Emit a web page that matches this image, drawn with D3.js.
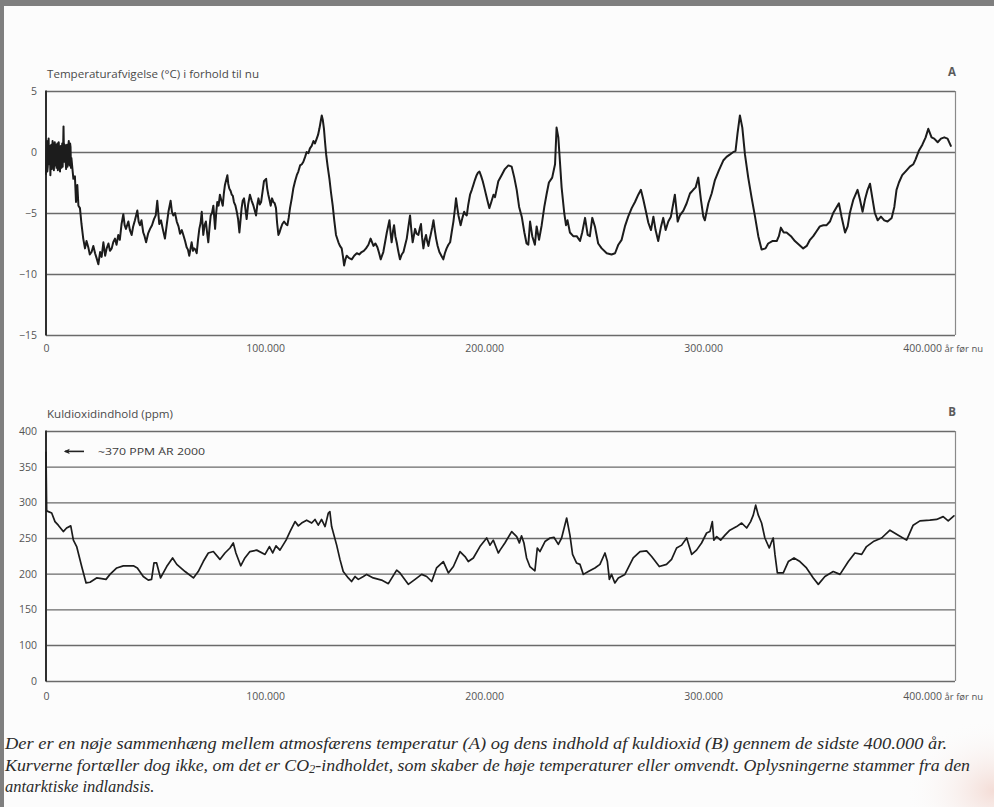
<!DOCTYPE html>
<html>
<head>
<meta charset="utf-8">
<script src="https://cdn.jsdelivr.net/npm/d3@7"></script>
<style>
  html, body { margin: 0; padding: 0; background: #fcfcfc; }
  svg { display: block; }
  .tick text { font-family: "Open Sans", "Noto Sans", sans-serif; font-size: 10.5px; fill: #555; }
</style>
</head>
<body>
<svg id="chart" width="994" height="807"></svg>
<script>
// Vostok ice core: temperature deviation (°C) against age (thousand years before present)
const temperature = [
  [0,-1.8],[0.2,-0.2],[0.4,0.9],[0.6,-1.6],[0.8,-1.2],[1.0,0.4],[1.2,1.1],[1.4,-1.0],[1.6,-0.6],[1.8,0.5],
  [2.0,-1.9],[2.2,-0.4],[2.4,0.6],[2.6,-1.4],[2.8,-1.0],[3.0,0.9],[3.2,0.4],[3.4,-0.8],[3.6,-1.5],[3.8,0.3],
  [4.0,0.8],[4.2,-1.1],[4.4,-0.3],[4.6,0.6],[4.8,-1.3],[5.0,-0.2],[5.2,0.7],[5.4,-1.5],[5.6,-0.9],[5.8,0.8],
  [6.0,0.2],[6.2,-0.9],[6.4,-1.6],[6.6,0.1],[6.8,0.5],[7.0,-1.3],[7.2,-0.4],[7.4,0.7],[7.6,-1.2],[7.8,0.2],
  [8.0,2.1],[8.2,-0.2],[8.4,-0.8],[8.6,0.6],[8.8,0.3],[9.0,-0.9],[9.2,-1.4],[9.4,0.2],[9.6,0.6],[9.8,-1.2],
  [10.0,-0.7],[10.2,0.5],[10.4,0.9],[10.6,-0.6],[10.8,-1.1],[11.0,0.7],[11.2,0.4],[11.4,-1.3],[11.6,-0.5],
  [12.5,-2.2],[13.2,-2.0],[13.7,-4.1],[14.3,-2.7],[14.8,-4.4],[15.5,-4.6],[16.2,-5.9],[17.0,-7.1],[17.8,-7.9],
  [18.5,-7.3],[19.3,-7.8],[20.0,-8.4],[20.8,-8.2],[21.6,-7.7],[22.4,-8.3],[23.1,-8.7],[23.9,-9.2],[24.7,-8.2],
  [25.4,-8.6],[26.2,-7.4],[27.0,-8.5],[27.7,-7.9],[28.5,-7.5],[29.2,-8.1],[30.0,-7.9],[30.7,-7.4],[31.5,-7.1],
  [32.2,-7.6],[33.0,-6.8],[33.7,-7.2],[34.5,-5.9],[35.3,-5.1],[35.9,-6.0],[36.5,-6.3],[37.6,-5.7],[38.3,-6.4],
  [39.1,-6.8],[39.8,-6.1],[40.6,-5.6],[41.7,-4.8],[42.3,-5.7],[42.9,-6.0],[43.6,-5.6],[44.4,-6.6],[45.0,-6.9],
  [45.7,-7.4],[46.6,-6.7],[47.5,-6.3],[48.4,-6.0],[49.3,-5.5],[50.1,-5.2],[50.8,-4.0],[51.7,-5.9],[52.5,-5.6],
  [53.3,-6.3],[54.3,-7.1],[55.1,-6.0],[55.9,-4.9],[56.9,-4.0],[57.5,-4.9],[58.1,-5.2],[58.9,-5.0],[59.7,-5.7],
  [60.5,-6.1],[61.2,-6.7],[62.0,-6.4],[62.7,-6.8],[63.5,-7.3],[64.2,-7.8],[64.8,-8.0],[65.4,-8.5],[66.5,-7.4],
  [67.1,-8.1],[67.6,-7.9],[68.2,-8.0],[68.8,-8.3],[69.4,-7.2],[70.0,-6.3],[70.6,-5.8],[71.1,-4.9],[71.8,-6.8],
  [72.4,-6.0],[73.0,-5.7],[73.6,-6.7],[74.1,-7.4],[74.7,-6.1],[75.2,-5.2],[75.8,-5.0],[76.4,-4.4],[77.2,-6.3],
  [77.7,-5.0],[78.2,-4.1],[78.8,-4.4],[79.4,-3.5],[80.1,-4.0],[80.7,-4.4],[81.2,-3.4],[81.7,-2.7],[82.8,-1.9],
  [83.2,-2.6],[83.7,-3.0],[84.3,-3.2],[84.8,-3.5],[85.3,-3.6],[85.8,-4.1],[86.5,-4.4],[87.1,-4.9],[87.7,-5.5],
  [88.3,-6.6],[88.8,-5.6],[89.3,-4.6],[89.8,-4.0],[90.4,-3.8],[91.0,-4.6],[91.6,-5.5],[92.3,-4.3],[93.1,-3.5],
  [93.9,-4.0],[94.7,-4.4],[95.3,-4.8],[95.9,-5.2],[96.5,-4.3],[97.0,-3.8],[97.6,-4.3],[98.2,-4.1],[98.9,-3.2],
  [99.5,-2.4],[100.5,-2.2],[101.0,-3.0],[101.5,-3.5],[102.0,-3.9],[102.6,-4.4],[103.2,-3.8],[103.8,-4.1],
  [104.4,-4.2],[105.0,-4.6],[105.5,-5.8],[106.1,-6.8],[106.6,-6.6],[107.1,-6.3],[107.9,-5.9],[108.7,-5.7],
  [109.5,-5.9],[110.2,-6.0],[110.8,-5.4],[111.4,-4.6],[112.2,-3.8],[112.9,-3.0],[113.7,-2.4],[114.5,-1.9],
  [115.2,-1.6],[116.0,-1.1],[116.8,-1.0],[117.5,-0.8],[118.3,-0.4],[119.0,0.0],[119.8,-0.1],[120.5,0.3],
  [121.3,0.5],[122.1,0.9],[122.8,0.7],[123.6,1.1],[124.2,1.4],[124.8,1.9],[125.4,2.5],[125.9,3.0],[126.4,2.6],
  [126.9,1.9],[127.4,0.8],[127.9,-0.2],[128.6,-1.2],[129.4,-2.2],[130.1,-3.3],[130.9,-4.4],[131.6,-5.6],
  [132.4,-6.8],[133.5,-7.4],[134.2,-7.7],[135.0,-7.9],[135.6,-8.6],[136.1,-9.3],[136.7,-8.8],[137.3,-8.5],
  [138.4,-8.7],[139.6,-8.8],[140.7,-8.5],[141.9,-8.3],[143.0,-8.4],[144.1,-8.2],[145.1,-8.1],[146.1,-7.9],
  [147.2,-7.6],[148.2,-7.1],[149.5,-7.7],[150.4,-7.5],[151.3,-7.8],[152.1,-8.3],[152.8,-8.8],[154.0,-8.2],
  [154.8,-7.4],[155.6,-6.6],[156.8,-5.6],[157.3,-6.6],[157.8,-7.4],[158.4,-6.5],[158.9,-6.0],[159.5,-6.9],
  [160.1,-7.4],[160.8,-8.1],[161.6,-8.8],[162.4,-8.4],[163.2,-8.2],[164.0,-7.6],[164.7,-7.1],[165.4,-6.2],
  [166.2,-5.2],[166.8,-6.4],[167.4,-7.4],[168.0,-6.8],[168.5,-6.3],[169.2,-6.7],[170.0,-6.8],[170.6,-6.3],
  [171.2,-5.9],[171.7,-7.0],[172.3,-7.9],[172.9,-7.2],[173.5,-6.8],[174.0,-7.3],[174.6,-7.7],[175.1,-7.2],
  [175.6,-6.8],[176.3,-6.2],[176.9,-5.6],[177.5,-6.4],[178.1,-7.1],[178.8,-7.7],[179.6,-8.2],[180.5,-8.5],
  [181.4,-8.8],[182.1,-8.3],[182.9,-7.9],[183.7,-7.6],[184.5,-7.4],[185.2,-6.6],[186.0,-5.7],[186.6,-4.8],
  [187.2,-3.8],[187.8,-4.6],[188.3,-5.2],[188.8,-5.6],[189.3,-6.0],[190.1,-5.4],[190.9,-4.9],[191.5,-5.1],
  [192.1,-5.2],[192.8,-4.3],[193.6,-3.5],[194.4,-3.1],[195.1,-2.7],[195.8,-2.3],[196.6,-1.9],[197.2,-1.7],
  [197.9,-1.6],[198.7,-2.0],[199.4,-2.4],[200.1,-2.9],[200.9,-3.5],[201.7,-4.1],[202.4,-4.6],[203.3,-4.1],
  [204.3,-3.5],[205.0,-3.7],[206.5,-2.4],[208.0,-1.9],[209.5,-1.4],[211.1,-1.1],[212.6,-1.2],[213.8,-2.1],
  [214.9,-3.1],[216.0,-4.5],[217.2,-5.3],[218.4,-6.6],[219.4,-7.5],[220.2,-7.6],[221.0,-5.7],[222.0,-6.9],
  [223.2,-7.6],[224.0,-6.1],[225.1,-7.2],[226.3,-6.0],[227.5,-4.5],[228.6,-3.4],[229.6,-2.5],[231.1,-2.1],
  [232.4,-1.0],[233.1,2.0],[233.9,1.2],[234.6,-0.7],[235.4,-2.9],[236.6,-5.0],[237.4,-6.0],[238.1,-5.6],
  [239.2,-6.6],[240.7,-6.9],[242.3,-6.9],[243.8,-7.3],[244.8,-6.6],[246.1,-5.4],[247.3,-6.8],[248.3,-6.9],
  [249.4,-5.4],[250.6,-6.1],[252.1,-7.5],[253.7,-7.9],[256.0,-8.3],[258.2,-8.4],[259.8,-8.3],[261.3,-7.6],
  [262.8,-7.2],[264.3,-6.1],[265.8,-5.3],[267.4,-4.6],[268.9,-4.1],[270.4,-3.5],[271.6,-3.1],[272.7,-3.9],
  [273.8,-4.8],[275.0,-5.8],[276.2,-6.4],[277.3,-5.3],[278.3,-6.4],[279.5,-7.3],[280.8,-6.1],[281.8,-5.4],
  [282.9,-6.4],[284.1,-5.7],[285.3,-5.3],[286.4,-4.2],[287.1,-3.5],[288.4,-5.7],[289.4,-5.2],[291.0,-4.8],
  [292.5,-4.2],[294.0,-3.4],[295.5,-3.1],[296.6,-2.9],[297.8,-2.1],[299.0,-3.9],[300.1,-5.3],[300.8,-5.6],
  [302.4,-4.2],[303.9,-3.4],[305.4,-2.3],[307.2,-1.5],[309.2,-0.7],[310.7,-0.4],[312.3,-0.2],[313.8,0.0],
  [314.8,0.1],[315.7,1.5],[316.8,3.0],[317.9,2.0],[319.1,-0.2],[320.6,-2.1],[322.1,-3.7],[323.7,-5.3],
  [325.2,-6.9],[326.7,-8.0],[328.5,-7.9],[329.7,-7.5],[331.6,-7.3],[333.6,-7.3],[334.6,-6.9],[335.5,-6.2],
  [336.8,-6.6],[338.1,-6.6],[340.1,-6.9],[341.9,-7.3],[343.8,-7.6],[345.7,-7.9],[347.3,-7.7],[348.8,-7.2],
  [350.3,-6.9],[351.8,-6.5],[353.3,-6.1],[354.9,-6.0],[356.4,-6.0],[357.9,-5.7],[359.4,-5.0],[361.0,-4.5],
  [362.0,-4.2],[363.2,-5.3],[364.8,-6.6],[366.0,-6.1],[367.0,-5.0],[368.6,-3.9],[370.5,-3.1],[371.6,-3.9],
  [372.8,-4.9],[373.9,-3.9],[375.1,-3.1],[376.2,-2.6],[377.2,-3.7],[378.4,-5.0],[379.7,-5.6],[381.2,-5.3],
  [382.7,-5.6],[384.2,-5.7],[386.1,-5.4],[387.3,-4.5],[388.3,-3.1],[389.4,-2.5],[390.9,-1.9],[392.9,-1.5],
  [394.4,-1.2],[396.0,-1.0],[397.0,-0.6],[398.5,0.1],[400.1,0.6],[401.6,1.2],[402.8,1.9],[404.3,1.2],
  [405.5,1.1],[407.1,0.8],[408.6,1.1],[410.1,1.2],[411.6,1.1],[413.1,0.5]
];

// Vostok ice core: CO2 concentration (ppm) against age (thousand years before present)
const co2 = [
  [0,370],[0.3,288],[1.1,287],[2.6,285],[4.1,273],[5.6,268],[7.9,259],[9.4,264],[11.3,267],[12.5,247],
  [14.0,238],[16.3,210],[18.3,187],[20.1,188],[23.1,194],[25.4,193],[27.4,192],[29.2,199],[32.3,208],
  [35.3,211],[39.9,211],[41.7,208],[44.4,196],[46.7,191],[48.2,192],[49.3,215],[50.5,215],[52.3,194],
  [55.1,210],[57.8,222],[59.7,213],[63.5,203],[67.3,194],[69.5,203],[71.8,217],[74.1,229],[76.4,231],
  [79.4,220],[81.7,229],[84.0,236],[85.5,243],[86.7,229],[88.9,211],[90.8,222],[93.1,231],[96.2,233],
  [100.0,227],[102.0,238],[103.5,229],[105.0,239],[106.8,233],[109.6,247],[111.4,259],[113.7,273],
  [115.2,267],[116.7,271],[119.0,275],[121.3,271],[122.8,276],[124.3,268],[125.8,276],[127.4,266],
  [128.9,285],[129.6,287],[130.4,266],[132.7,240],[134.2,220],[135.7,203],[138.0,194],[139.5,189],
  [141.1,196],[142.6,192],[144.9,196],[146.4,199],[149.4,194],[153.2,191],[156.3,186],[160.1,205],
  [161.6,201],[165.4,185],[168.5,192],[171.5,199],[173.8,196],[176.1,189],[178.3,208],[181.4,217],
  [183.7,201],[186.0,210],[189.0,231],[191.3,224],[192.8,217],[195.1,222],[198.1,238],[201.2,250],
  [202.7,240],[204.2,247],[206.5,229],[207.3,233],[209.5,243],[212.6,259],[214.9,252],[216.1,243],
  [217.1,253],[218.2,243],[219.4,222],[220.9,210],[223.2,204],[224.3,236],[225.5,231],[227.8,245],
  [230.1,250],[231.9,251],[233.9,241],[235.4,250],[237.7,278],[239.2,254],[240.4,227],[242.2,215],
  [243.8,213],[245.3,199],[247.6,203],[250.6,208],[252.9,213],[255.2,229],[256.3,217],[257.2,192],
  [258.2,199],[259.7,187],[261.3,194],[264.3,199],[265.8,208],[268.1,222],[271.2,231],[274.2,232],
  [276.5,224],[280.0,210],[283.3,213],[285.6,220],[287.9,236],[290.2,240],[292.5,250],[294.8,227],
  [297.0,233],[299.3,243],[301.6,257],[303.1,259],[304.2,273],[304.9,247],[306.2,252],[308.0,247],
  [310.0,254],[312.2,261],[315.3,266],[317.6,271],[319.9,264],[321.7,273],[322.9,282],[324.0,296],
  [325.2,282],[326.7,271],[328.2,250],[330.2,236],[331.3,245],[332.0,250],[332.8,227],[333.9,201],
  [336.6,201],[338.9,217],[341.5,222],[344.2,217],[347.2,208],[350.3,194],[352.6,185],[355.6,196],
  [359.4,203],[362.5,199],[366.3,217],[369.3,229],[372.4,227],[374.6,238],[377.7,245],[381.5,250],
  [385.3,261],[389.1,254],[392.9,247],[395.9,268],[399.0,274],[403.5,275],[406.6,276],[409.6,280],
  [411.9,274],[414.5,281]
];

const tempTicks = [5, 0, -5, -10, -15];
const co2Ticks = [0, 100, 150, 200, 250, 300, 350, 400];
const ageTicks = [0, 100, 200, 300, 400];
const ageTickLabels = ["0", "100.000", "200.000", "300.000", "400.000"];
const ageUnit = " år før nu";
const tempTitle = "Temperaturafvigelse (°C) i forhold til nu";
const co2Title = "Kuldioxidindhold (ppm)";
const co2Note = "~370 PPM ÅR 2000";
const caption = [
  "Der er en nøje sammenhæng mellem atmosfærens temperatur (A) og dens indhold af kuldioxid (B) gennem de sidste 400.000 år.",
  "Kurverne fortæller dog ikke, om det er CO₂-indholdet, som skaber de høje temperaturer eller omvendt. Oplysningerne stammer fra den",
  "antarktiske indlandsis."
];

const W = 994, H = 807;
const svg = d3.select("#chart");
const sans = "Open Sans, Noto Sans, sans-serif";

// page and the grey edges around it
const defs = svg.append("defs");
const tint = defs.append("radialGradient").attr("id", "cornerTint")
  .attr("cx", 1).attr("cy", 0.98).attr("r", 0.09);
tint.append("stop").attr("offset", 0).attr("stop-color", "#f3d9d2").attr("stop-opacity", 0.9);
tint.append("stop").attr("offset", 1).attr("stop-color", "#fcfcfc").attr("stop-opacity", 0);
svg.append("rect").attr("width", W).attr("height", H).attr("fill", "#fcfcfc");
svg.append("rect").attr("width", W).attr("height", H).attr("fill", "url(#cornerTint)");
svg.append("rect").attr("x", 0).attr("y", 0).attr("width", W).attr("height", 6).attr("fill", "#7f7f7f");
svg.append("rect").attr("x", 0).attr("y", 0).attr("width", 4).attr("height", H).attr("fill", "#7f7f7f");

const left = 46, right = 955;
const x = d3.scaleLinear().domain([0, 415]).range([left, right]);

function drawPanel(opts) {
  const { y, ticks, data, title, titleWidth, letter, titleY, labelPad, lineWidth } = opts;
  const yBottom = y(d3.min(ticks)), yTop = y(d3.max(ticks));
  const g = svg.append("g");

  // horizontal rules with value labels
  const yAxis = d3.axisLeft(y).tickValues(ticks).tickSize(-(right - left)).tickPadding(9);
  const ya = g.append("g").attr("transform", `translate(${left},0)`).call(yAxis);
  ya.select(".domain").remove();
  ya.selectAll(".tick line").attr("stroke", "#6a6a6a").attr("stroke-width", 1.4);
  ya.selectAll(".tick text").attr("dy", "0.32em");

  // right edge of the frame
  g.append("line").attr("x1", right + 0.5).attr("x2", right + 0.5)
    .attr("y1", yTop).attr("y2", yBottom).attr("stroke", "#8a8a8a").attr("stroke-width", 1.2);

  // age axis
  const xAxis = d3.axisBottom(x).tickValues(ageTicks).tickSize(0).tickPadding(labelPad)
    .tickFormat((d, i) => ageTickLabels[i]);
  const xa = g.append("g").attr("transform", `translate(0,${yBottom})`).call(xAxis);
  xa.select(".domain").remove();
  const last = xa.selectAll(".tick text").filter(d => d === 400);
  const w = last.node().getComputedTextLength();
  last.attr("text-anchor", "start").attr("x", -w / 2)
    .append("tspan").attr("font-size", 9.5).text(ageUnit);

  // left axis line
  g.append("line").attr("x1", left).attr("x2", left).attr("y1", yTop - 0.5).attr("y2", yBottom + 0.5)
    .attr("stroke", "#2e2e2e").attr("stroke-width", 2);

  // data curve
  g.append("path").datum(data)
    .attr("d", d3.line().x(d => x(d[0])).y(d => y(d[1])))
    .attr("fill", "none").attr("stroke", "#1c1c1c").attr("stroke-width", lineWidth)
    .attr("stroke-linejoin", "round").attr("stroke-linecap", "round");

  // panel title and letter
  g.append("text").attr("x", left + 1).attr("y", titleY)
    .attr("font-family", sans).attr("font-size", 10)
    .attr("textLength", titleWidth).attr("lengthAdjust", "spacingAndGlyphs")
    .attr("fill", "#4a4a4a").text(title);
  g.append("text").attr("x", 952).attr("y", titleY - 2).attr("text-anchor", "middle")
    .attr("font-family", sans).attr("font-size", 11.5)
    .attr("font-weight", "bold").attr("fill", "#5a5a5a").text(letter);
  return g;
}

// A: temperature
const yTemp = d3.scaleLinear().domain([-15, 5]).range([335, 91]);
drawPanel({ y: yTemp, ticks: tempTicks, data: temperature, title: tempTitle, titleWidth: 212,
  letter: "A", titleY: 78, labelPad: 10, lineWidth: 2.0 });

// B: CO2 (axis compressed below 100 ppm)
const yCO2 = d3.scaleLinear().domain([0, 100, 400]).range([681, 645, 431]);
const gB = drawPanel({ y: yCO2, ticks: co2Ticks, data: co2, title: co2Title, titleWidth: 126,
  letter: "B", titleY: 418, labelPad: 12, lineWidth: 1.7 });

// note about the present-day level
const noteY = yCO2(370) - 1;
defs.append("marker").attr("id", "arrowHead").attr("viewBox", "0 0 10 10")
  .attr("refX", 8).attr("refY", 5).attr("markerWidth", 6).attr("markerHeight", 6)
  .attr("markerUnits", "userSpaceOnUse").attr("orient", "auto")
  .append("path").attr("d", "M10,5 L0,0.5 L2.5,5 L0,9.5 Z").attr("fill", "#222");
gB.append("line").attr("x1", 84).attr("x2", 65).attr("y1", noteY).attr("y2", noteY)
  .attr("stroke", "#222").attr("stroke-width", 1.6).attr("marker-end", "url(#arrowHead)");
gB.append("text").attr("x", 98).attr("y", noteY + 3.5)
  .attr("font-family", sans).attr("font-size", 9.5)
  .attr("textLength", 107).attr("lengthAdjust", "spacingAndGlyphs")
  .attr("fill", "#3a3a3a").text(co2Note);

// caption below the charts
const cap = svg.append("g").attr("font-family", "Liberation Serif, serif")
  .attr("font-style", "italic").attr("fill", "#2b2b2b").attr("font-size", 16.5);
const capY = [749, 771, 792];
const capWidth = [942, 965, null];
caption.forEach((line, i) => {
  const t = cap.append("text").attr("x", 5).attr("y", capY[i]);
  if (capWidth[i]) t.attr("textLength", capWidth[i]).attr("lengthAdjust", "spacingAndGlyphs");
  line.split("₂").forEach((p, j) => {
    if (j > 0) t.append("tspan").attr("font-size", 11.5).attr("baseline-shift", "-20%").text("2");
    t.append("tspan").text(p);
  });
});
</script>
</body>
</html>
